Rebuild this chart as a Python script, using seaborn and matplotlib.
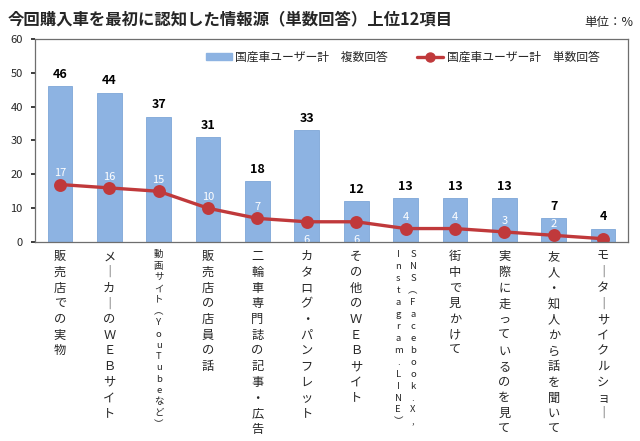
import numpy as np
import pandas as pd
import seaborn as sns
import matplotlib.pyplot as plt
from matplotlib.patches import Patch
from matplotlib.lines import Line2D

# データ
items = ['販売店での実物', 'メーカーのWEBサイト', '動画サイト（YouTubeなど）', '販売店の店員の話',
         '二輪車専門誌の記事・広告', 'カタログ・パンフレット', 'その他のWEBサイト',
         'SNS（Facebook,X,Instagram,LINE）', '街中で見かけて', '実際に走っているのを見て',
         '友人・知人から話を聞いて', 'モーターサイクルショー']
multi = [46, 44, 37, 31, 18, 33, 12, 13, 13, 13, 7, 4]
single = [17, 16, 15, 10, 7, 6, 6, 4, 4, 3, 2, 1]
# 縦書きラベル（列ごと、右の列から）
vlabels = [['販売店での実物'], ['メ｜カ｜のＷＥＢサイト'], ['動画サイト︵YouTubeなど︶'],
           ['販売店の店員の話'], ['二輪車専門誌の記事・広告'], ['カタログ・パンフレット'],
           ['その他のＷＥＢサイト'], ['SNS︵Facebook.X,', 'Instagram.LINE︶'],
           ['街中で見かけて'], ['実際に走っているのを見て'], ['友人・知人から話を聞いて'],
           ['モ｜タ｜サイクルショ｜']]

df = pd.DataFrame({'item': items, 'multi': multi, 'single': single})

sns.set_theme(style='white')
plt.rcParams['font.family'] = ['Noto Sans CJK JP', 'DejaVu Sans']

bar_color = '#8db3e2'
line_color = '#c0393b'

fig = plt.figure(figsize=(6.4, 4.41), dpi=100)
ax = fig.add_axes([0.055, 0.451, 0.926, 0.461])

sns.barplot(data=df, x='item', y='multi', color=bar_color, width=0.5,
            saturation=1, edgecolor='#7ea6d8', linewidth=0.6, ax=ax)
sns.pointplot(data=df, x='item', y='single', color=line_color, markers='o',
              markersize=7.5, linewidth=2.4, ax=ax)

ax.set_ylim(0, 60)
ax.set_xlim(-0.5, len(items) - 0.5)
ax.set_yticks(range(0, 61, 10))
ax.tick_params(axis='y', labelsize=8, length=3, direction='out', left=True, pad=6)
ax.set_xticks(range(len(items)))
ax.set_xticklabels([''] * len(items))
ax.tick_params(axis='x', length=0)
ax.set_xlabel('')
ax.set_ylabel('')
for s in ax.spines.values():
    s.set_color('#6e6e6e')
    s.set_linewidth(0.9)

# 棒の数値
for i, v in enumerate(multi):
    ax.annotate(str(v), (i, v), xytext=(0, 4), textcoords='offset points',
                ha='center', va='bottom', fontsize=9, fontweight='bold', color='black')

# 折れ線の数値
for i, v in enumerate(single):
    if i in (5, 6):
        off = -13
    elif i == 11:
        off = -2
    else:
        off = 8
    ax.annotate(str(v), (i, v), xytext=(0, off), textcoords='offset points',
                ha='center', va='center', fontsize=8, color='white', zorder=1)

# 縦書きの項目名
trans = ax.get_xaxis_transform()
for i, cols in enumerate(vlabels):
    if len(cols) == 1:
        text = cols[0]
        small = any(c.isascii() for c in text)
        fs = 6.8 if small else 8.8
        ls = 1.33 if small else 1.27
        ax.text(i, -0.04, '\n'.join(text), transform=trans, ha='center', va='top',
                fontsize=fs, linespacing=ls, clip_on=False)
    else:
        for k, text in enumerate(cols):
            ax.text(i + 0.15 - 0.3 * k, -0.04, '\n'.join(text), transform=trans,
                    ha='center', va='top', fontsize=6.8, linespacing=1.42, clip_on=False)

# 凡例
handles = [Patch(facecolor=bar_color, edgecolor=bar_color),
           Line2D([0], [0], color=line_color, lw=2.4, marker='o', markersize=6.5)]
ax.legend(handles, ['国産車ユーザー計　複数回答', '国産車ユーザー計　単数回答'],
          loc='center', bbox_to_anchor=(0.62, 0.91), ncol=2, frameon=False,
          fontsize=8.5, handlelength=2.2, handleheight=0.6, columnspacing=2.5,
          handletextpad=0.3)

fig.text(0.012, 0.955, '今回購入車を最初に認知した情報源（単数回答）上位12項目',
         fontsize=11.8, fontweight='bold', va='center', ha='left')
fig.text(0.99, 0.95, '単位：%', fontsize=9, va='center', ha='right')

fig.savefig('out.png', dpi=100)
